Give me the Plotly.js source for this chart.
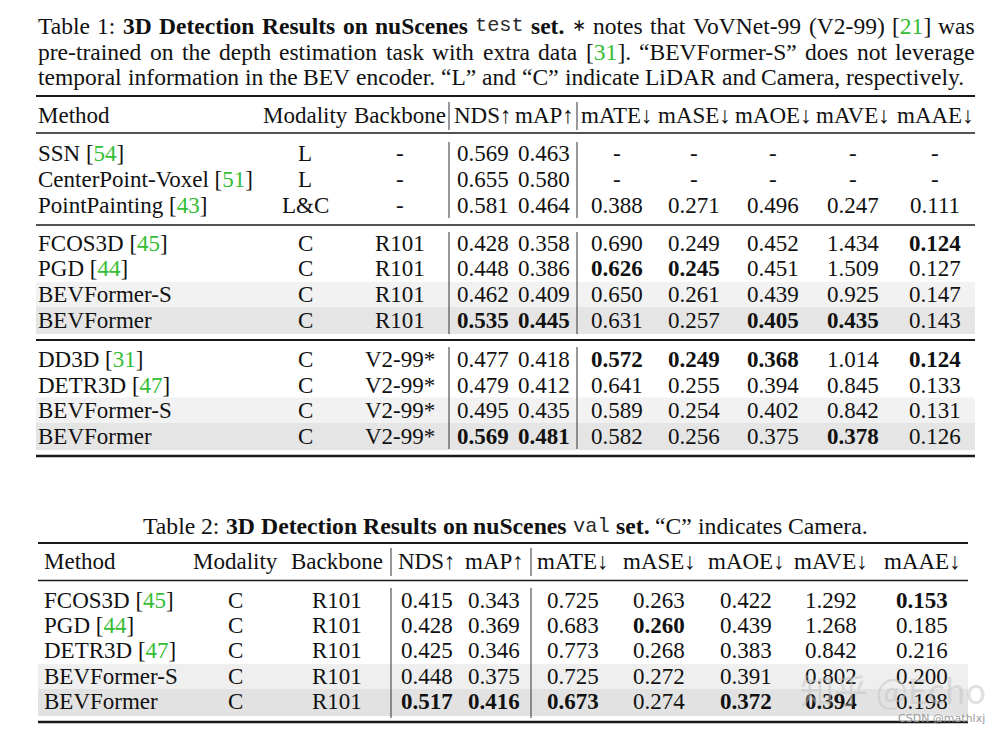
<!DOCTYPE html>
<html><head><meta charset="utf-8">
<script src="https://cdn.plot.ly/plotly-3.0.1.min.js"></script>
<style>html,body{margin:0;padding:0;background:#fff}</style>
</head><body><div id="chart" style="width:1000px;height:734px"></div>
<script>
// ================= DATA =================
// Table 1 (nuScenes test set)
const t1Methods  = ["SSN","CenterPoint-Voxel","PointPainting","FCOS3D","PGD","BEVFormer-S","BEVFormer","DD3D","DETR3D","BEVFormer-S","BEVFormer"];
const t1Refs     = ["54","51","43","45","44","","","31","47","",""];
const t1Modality = ["L","L","L&C","C","C","C","C","C","C","C","C"];
const t1Backbone = ["-","-","-","R101","R101","R101","R101","V2-99*","V2-99*","V2-99*","V2-99*"];
const t1NDS  = [0.569,0.655,0.581,0.428,0.448,0.462,0.535,0.477,0.479,0.495,0.569];
const t1mAP  = [0.463,0.580,0.464,0.358,0.386,0.409,0.445,0.418,0.412,0.435,0.481];
const t1mATE = [null,null,0.388,0.690,0.626,0.650,0.631,0.572,0.641,0.589,0.582];
const t1mASE = [null,null,0.271,0.249,0.245,0.261,0.257,0.249,0.255,0.254,0.256];
const t1mAOE = [null,null,0.496,0.452,0.451,0.439,0.405,0.368,0.394,0.402,0.375];
const t1mAVE = [null,null,0.247,1.434,1.509,0.925,0.435,1.014,0.845,0.842,0.378];
const t1mAAE = [null,null,0.111,0.124,0.127,0.147,0.143,0.124,0.133,0.131,0.126];
const t1Bold = [[],[],[],["mAAE"],["mATE","mASE"],[],["NDS","mAP","mAOE","mAVE"],
                ["mATE","mASE","mAOE","mAAE"],[],[],["NDS","mAP","mAVE"]];

// Table 2 (nuScenes val set)
const t2Methods  = ["FCOS3D","PGD","DETR3D","BEVFormer-S","BEVFormer"];
const t2Refs     = ["45","44","47","",""];
const t2Modality = ["C","C","C","C","C"];
const t2Backbone = ["R101","R101","R101","R101","R101"];
const t2NDS  = [0.415,0.428,0.425,0.448,0.517];
const t2mAP  = [0.343,0.369,0.346,0.375,0.416];
const t2mATE = [0.725,0.683,0.773,0.725,0.673];
const t2mASE = [0.263,0.260,0.268,0.272,0.274];
const t2mAOE = [0.422,0.439,0.383,0.391,0.372];
const t2mAVE = [1.292,1.268,0.842,0.802,0.394];
const t2mAAE = [0.153,0.185,0.216,0.200,0.198];
const t2Bold = [["mAAE"],["mASE"],[],[],["NDS","mAP","mATE","mAOE","mAVE"]];

const headers = ["Method","Modality","Backbone","NDS↑","mAP↑","mATE↓","mASE↓","mAOE↓","mAVE↓","mAAE↓"];
const metricKeys = ["NDS","mAP","mATE","mASE","mAOE","mAVE","mAAE"];

// ================= LAYOUT / STYLE =================
const SERIF = 'Liberation Serif, Times New Roman, serif';
const MONO  = 'Liberation Mono, DejaVu Sans Mono, monospace';
const INK = '#111';
const GREEN = '#35bd35';
const TFS = 23;          // table font size

const t1Cols = [38,305,400,483,544,617,694,773,853,935];
const t1HeadY = 115;
const t1RowY = [153,179,205, 243,268.5,294,320, 359.5,385,410.5,436];
const t2Cols = [44,235,337,427,494,573,659,746,831,922];
const t2HeadY = 561.5;
const t2RowY = [600,625,650.5,676,701.5];

const shapes = [];
const annotations = [];

function hline(y,x0,x1,w){shapes.push({type:'line',xref:'x',yref:'y',x0:x0,x1:x1,y0:y,y1:y,line:{color:'#1a1a1a',width:w}});}
function vline(x,y0,y1,w){shapes.push({type:'line',xref:'x',yref:'y',x0:x,x1:x,y0:y0,y1:y1,line:{color:'#333',width:w||1}});}
function band(y0,y1,x0,x1,c){shapes.push({type:'rect',xref:'x',yref:'y',x0:x0,x1:x1,y0:y0,y1:y1,line:{width:0},fillcolor:c,layer:'below'});}
function txt(x,y,t,o){
  o=o||{};
  annotations.push({xref:'x',yref:'y',x:x,y:y,text:t,showarrow:false,xanchor:o.xa||'center',yanchor:'middle',
    borderpad:0,borderwidth:0,font:{family:o.fam||SERIF,size:o.size||TFS,color:o.color||INK},opacity:o.op==null?1:o.op});
}
function fmt(v,b){ if(v===null) return '-'; const s=v.toFixed(3); return b?'<b>'+s+'</b>':s; }
function methodHTML(m,r){ return r? m+' [<span style="color:'+GREEN+'">'+r+'</span>]' : m; }

function drawTable(cols,headY,rowY,methods,refs,mods,bbs,metrics,bold){
  headers.forEach((h,i)=>txt(cols[i],headY,h,{xa:i===0?'left':'center'}));
  rowY.forEach((y,r)=>{
    txt(cols[0],y,methodHTML(methods[r],refs[r]),{xa:'left'});
    txt(cols[1],y,mods[r]);
    txt(cols[2],y,bbs[r]);
    metrics.forEach((arr,k)=>txt(cols[3+k],y,fmt(arr[r],bold[r].indexOf(metricKeys[k])>=0)));
  });
}

// ---- Table 1 structure ----
band(282,307,36,975,'#f2f2f2'); band(307,334,36,975,'#e5e5e5');
band(397.5,423,36,975,'#f2f2f2'); band(423,450,36,975,'#e5e5e5');
hline(96,36,975,2); hline(133,36,975,1.3); hline(225,36,975,1.3); hline(340,36,975,1.8); hline(456,36,975,2.6);
[[102,130],[142,218],[232,334],[347,449]].forEach(s=>{vline(449,s[0],s[1]);vline(577,s[0],s[1]);});
drawTable(t1Cols,t1HeadY,t1RowY,t1Methods,t1Refs,t1Modality,t1Backbone,
  [t1NDS,t1mAP,t1mATE,t1mASE,t1mAOE,t1mAVE,t1mAAE],t1Bold);

// ---- Table 2 structure ----
band(664,689,38,968,'#efefef'); band(689,716,38,968,'#e2e2e2');
hline(543,38,968,2); hline(580.5,38,968,1.4); hline(722,38,968,2.6);
[[548,576],[588,718]].forEach(s=>{vline(391,s[0],s[1]);vline(531,s[0],s[1]);});
drawTable(t2Cols,t2HeadY,t2RowY,t2Methods,t2Refs,t2Modality,t2Backbone,
  [t2NDS,t2mAP,t2mATE,t2mASE,t2mAOE,t2mAVE,t2mAAE],t2Bold);

// ---- Captions (justified via canvas measurement) ----
const ctx=document.createElement('canvas').getContext('2d');
function W(t,o){o=o||{};return {t:t,b:!!o.b,m:!!o.m,h:o.h,sf:o.sf||(o.m?0.86:1)};}
function meas(w,s){ctx.font=(w.b?'bold ':'')+(s*w.sf)+'px '+(w.m?MONO:SERIF);return ctx.measureText(w.t).width;}
function html(w,s){
  let t=w.h||w.t;
  if(w.m) t='<span style="font-family:'+MONO+';font-size:'+(s*w.sf).toFixed(1)+'px;fill:#2a2a2a">'+t+'</span>';
  else if(w.sf!==1) t='<span style="font-size:'+(s*w.sf).toFixed(1)+'px">'+t+'</span>';
  return w.b?'<b>'+t+'</b>':t;
}
const cite=n=>'[<span style="color:'+GREEN+'">'+n+'</span>]';
function plain(s){return s.split(' ').map(x=>W(x));}
const cap1 = [
  [W('Table'),W('1:'),W('3D',{b:1}),W('Detection',{b:1}),W('Results',{b:1}),W('on',{b:1}),W('nuScenes',{b:1}),W('test',{m:1}),W('set.',{b:1}),
   W('∗',{sf:0.72}),W('notes'),W('that'),W('VoVNet-99'),W('(V2-99)'),W('[21]',{h:cite('21')}),W('was')],
  [].concat(plain('pre-trained on the depth estimation task with extra data'),[W('[31].',{h:cite('31')+'.'})],plain('“BEVFormer-S” does not leverage')),
  plain('temporal information in the BEV encoder. “L” and “C” indicate LiDAR and Camera, respectively.')
];
const capY=[25.5,51.5,77];
function lineW(ws,s){return ws.reduce((a,w)=>a+meas(w,s),0)+(ws.length-1)*meas(W(' '),s);}
let cs=22*927/lineW(cap1[2],22); cs=Math.max(19,Math.min(24,cs));
cap1.forEach((ws,li)=>{
  const sum=ws.reduce((a,w)=>a+meas(w,cs),0);
  const gap = li<2 ? (975-38-sum)/(ws.length-1) : meas(W(' '),cs);
  let x=38;
  ws.forEach(w=>{txt(x,capY[li],html(w,cs),{xa:'left',size:cs}); x+=meas(w,cs)+gap;});
});
// Table 2 caption (centered)
const cap2=[].concat([W('Table'),W('2:'),W('3D',{b:1}),W('Detection',{b:1}),W('Results',{b:1}),W('on',{b:1}),W('nuScenes',{b:1}),W('val',{m:1}),W('set.',{b:1})],
  plain('“C” indicates Camera.'));
let cs2=22*725/lineW(cap2,22); cs2=Math.max(19,Math.min(24,cs2));
{ const sp=meas(W(' '),cs2); let x=505.5-lineW(cap2,cs2)/2;
  cap2.forEach(w=>{txt(x,526,html(w,cs2),{xa:'left',size:cs2}); x+=meas(w,cs2)+sp;}); }

// ---- watermark ----
txt(893,689,'知乎 @Echo',{fam:'Noto Sans CJK SC, sans-serif',size:34,color:'#c4c4c4',op:0.5});
txt(985,718,'CSDN @mathlxj',{fam:'DejaVu Sans, sans-serif',size:11,color:'#9a9a9a',xa:'right'});

const layout={width:1000,height:734,margin:{l:0,r:0,t:0,b:0},paper_bgcolor:'#fff',plot_bgcolor:'#fff',
  xaxis:{range:[0,1000],visible:false,fixedrange:true},
  yaxis:{range:[734,0],visible:false,fixedrange:true},
  showlegend:false,shapes:shapes,annotations:annotations,font:{family:SERIF,color:INK}};
Plotly.newPlot('chart',[{x:[0,1000],y:[0,734],mode:'markers',marker:{opacity:0},hoverinfo:'skip',showlegend:false}],layout,{staticPlot:true});
</script></body></html>
